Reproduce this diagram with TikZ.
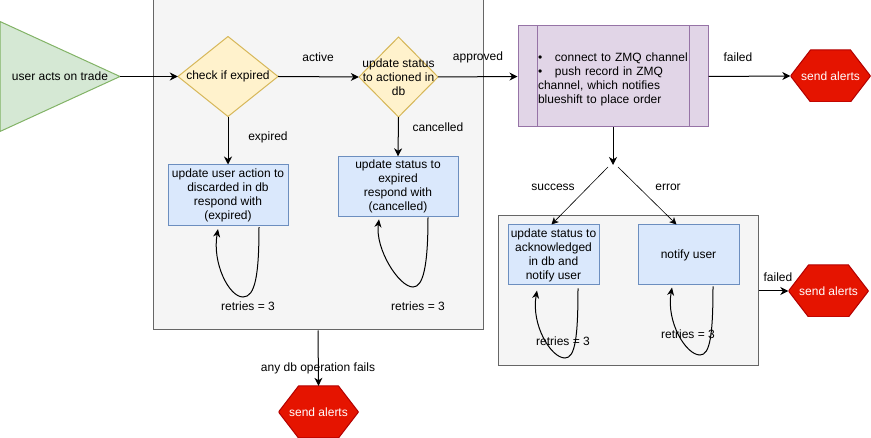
\documentclass[tikz,border=0pt]{standalone}
\usepackage{fontspec}
\setmainfont{Liberation Sans}
\usetikzlibrary{arrows.meta}
\definecolor{gfill}{HTML}{D5E8D4}\definecolor{gline}{HTML}{82B366}
\definecolor{yfill}{HTML}{FFF2CC}\definecolor{yline}{HTML}{D6B656}
\definecolor{bfill}{HTML}{DAE8FC}\definecolor{bline}{HTML}{6C8EBF}
\definecolor{pfill}{HTML}{E1D5E7}\definecolor{pline}{HTML}{9673A6}
\definecolor{rfill}{HTML}{E51400}\definecolor{rline}{HTML}{B20000}
\definecolor{cfill}{HTML}{F5F5F5}\definecolor{cline}{HTML}{666666}
\begin{document}
\begin{tikzpicture}[x=1pt,y=-1pt,
  every node/.style={font=\fontsize{12}{14}\selectfont, inner sep=0pt},
  container/.style={draw=cline, fill=cfill, line width=1pt},
  box/.style={draw=bline, fill=bfill, line width=1pt, align=center},
  starttri/.style={minimum width=120pt, minimum height=110pt,
    path picture={\filldraw[fill=gfill, draw=gline, line width=1pt]
      (path picture bounding box.north west) -- (path picture bounding box.east)
      -- (path picture bounding box.south west) -- cycle;}},
  decision/.style={minimum width=#1, minimum height=80pt, align=center,
    path picture={\filldraw[fill=yfill, draw=yline, line width=1pt]
      (path picture bounding box.west) -- (path picture bounding box.north)
      -- (path picture bounding box.east) -- (path picture bounding box.south) -- cycle;}},
  hexa/.style={minimum width=80pt, minimum height=52pt, text=white,
    path picture={\filldraw[fill=rfill, draw=rline, line width=1pt]
      (path picture bounding box.west) -- ([xshift=20pt]path picture bounding box.north west)
      -- ([xshift=-20pt]path picture bounding box.north east) -- (path picture bounding box.east)
      -- ([xshift=-20pt]path picture bounding box.south east)
      -- ([xshift=20pt]path picture bounding box.south west) -- cycle;}},
  process/.style={draw=pline, fill=pfill, line width=1pt, minimum width=190pt,
    minimum height=101pt,
    path picture={\draw[pline, line width=1pt]
      ([xshift=19pt]path picture bounding box.north west) -- ([xshift=19pt]path picture bounding box.south west)
      ([xshift=-19pt]path picture bounding box.north east) -- ([xshift=-19pt]path picture bounding box.south east);}},
  proctext/.style={text width=150pt, align=left},
  edge/.style={line width=1pt, -{Stealth[length=8pt,width=8pt,inset=2.5pt]}},
  thinedge/.style={line width=0.6pt, -{Stealth[length=7pt,width=7pt,inset=2pt]}},
  loopedge/.style={line width=1pt, -{Stealth[length=8pt,width=7pt,inset=2.5pt]}},
  lbl/.style={}
]
\useasboundingbox (0,0) rectangle (871,438);

% containers
\node[container, minimum width=330pt, minimum height=330pt] (c1) at (318,165) {};
\node[container, minimum width=260pt, minimum height=150pt] (c2) at (628,291) {};

% nodes
\node[starttri] (start) at (60,76.5) {user acts on trade};
\node[decision=100pt] (d1) at (228,76.5) {check if expired};
\node[decision=79pt] (d2) at (398.5,77) {update status\\to actioned in\\db};
\node[box, minimum width=120pt, minimum height=60.6pt] (b1) at (228,195.3) {update user action to\\discarded in db\\respond with\\(expired)};
\node[box, minimum width=120pt, minimum height=60pt] (b2) at (398,186.8) {update status to\\expired\\respond with\\(cancelled)};
\node[process] (proc) at (613,76.5) {};
\node[proctext, yshift=-3pt] (proctxt) at (proc.center) {\mbox{\makebox[17pt][l]{\textbullet}connect to ZMQ channel}\\\mbox{\makebox[17pt][l]{\textbullet}push record in ZMQ}\\channel, which notifies\\blueshift to place order};
\node[hexa] (h1) at (830.5,76) {send alerts};
\node[hexa] (h2) at (828.5,291) {send alerts};
\node[hexa] (h3) at (318.5,412) {send alerts};
\node[box, minimum width=91pt, minimum height=60pt] (b3) at (553.5,255) {update status to\\acknowledged\\in db and\\notify user};
\node[box, minimum width=101pt, minimum height=60pt] (b4) at (688.5,255) {notify user};
\coordinate (split) at (613,165);
\coordinate (splitL) at (608,167);
\coordinate (splitR) at (618,167);

% labels
\node[lbl] (lactive) at (318,57) {active};
\node[lbl] (lapproved) at (478,57) {approved};
\node[lbl] (lexpired) at (268,137) {expired};
\node[lbl] (lcancelled) at (438,127) {cancelled};
\node[lbl] (lfailed1) at (738,57) {failed};
\node[lbl] (lsuccess) at (553,187) {success};
\node[lbl] (lerror) at (668,187) {error};
\node[lbl] (lfailed2) at (778,277) {failed};
\node[lbl] (lanydb) at (318,368) {any db operation fails};
\node[lbl] (lr1) at (248,306) {retries = 3};
\node[lbl] (lr2) at (418,306) {retries = 3};
\node[lbl] (lr3) at (563,341) {retries = 3};
\node[lbl] (lr4) at (688,334) {retries = 3};

% edges
\draw[edge] (start.east) -- (d1.west);
\draw[edge] (d1.east) -- (d2.west);
\draw[edge] (d2.east) -- (proc.west);
\draw[edge] (d1.south) -- (b1.north);
\draw[edge] (d2.south) -- (b2.north);
\draw[edge] (proc.east) -- (h1.west);
\draw[edge] (proc.south) -- (split);
\draw[thinedge] (splitL) -- ([xshift=-2pt]b3.north);
\draw[thinedge] (splitR) -- ([xshift=-12pt]b4.north);
\draw[edge] (c2.east) -- (h2.west);
\draw[edge] (c1.south) -- (h3.north);

% retry loops
\draw[loopedge] ([xshift=31pt,yshift=-1pt]b1.south) .. controls (259,276) and (255,297) .. (243,297)
  .. controls (229,297) and (212,263) .. ([xshift=-10pt,yshift=-3pt]b1.south);
\draw[loopedge] ([xshift=30pt]b2.south) .. controls (428,267) and (423,287) .. (413,287)
  .. controls (399,287) and (375,249) .. ([xshift=-19pt,yshift=-2pt]b2.south);
\draw[loopedge] ([xshift=24.5pt,yshift=-3pt]b3.south) .. controls (578,338) and (575,358) .. (565,358)
  .. controls (551,358) and (531,325) .. ([xshift=-16.5pt,yshift=-5pt]b3.south);
\draw[loopedge] ([xshift=24.5pt,yshift=-1pt]b4.south) .. controls (713,335) and (710,355) .. (700,355)
  .. controls (686,355) and (666,322) .. ([xshift=-16.5pt,yshift=-2pt]b4.south);
\end{tikzpicture}
\end{document}
